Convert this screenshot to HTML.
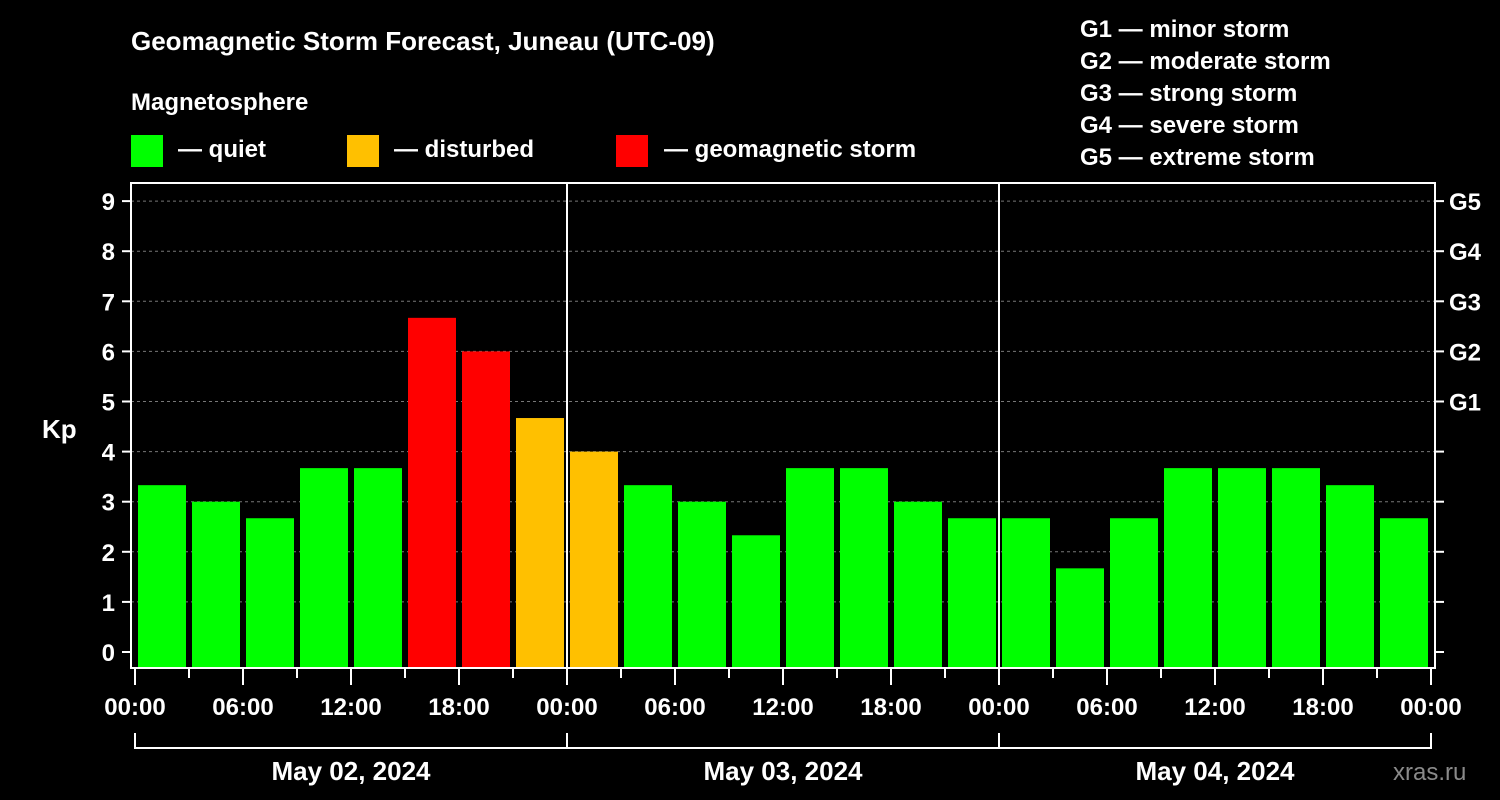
<!DOCTYPE html>
<html><head><meta charset="utf-8"><style>body{margin:0;background:#000}svg{display:block}text{font-family:"Liberation Sans",sans-serif;font-weight:bold;fill:#fff}</style></head><body>
<svg width="1500" height="800" viewBox="0 0 1500 800">
<text x="131" y="50" font-size="26">Geomagnetic Storm Forecast, Juneau (UTC-09)</text>
<text x="131" y="110" font-size="24">Magnetosphere</text>
<rect x="131" y="135" width="32" height="32" fill="#00ff00"/>
<text x="178" y="157" font-size="24">— quiet</text>
<rect x="347" y="135" width="32" height="32" fill="#ffc000"/>
<text x="394" y="157" font-size="24">— disturbed</text>
<rect x="616" y="135" width="32" height="32" fill="#ff0000"/>
<text x="664" y="157" font-size="24">— geomagnetic storm</text>
<g font-size="24">
<text x="1080" y="37">G1 — minor storm</text><text x="1080" y="69">G2 — moderate storm</text><text x="1080" y="101">G3 — strong storm</text><text x="1080" y="133">G4 — severe storm</text><text x="1080" y="165">G5 — extreme storm</text></g>
<text x="42" y="438" font-size="26">Kp</text>
<text x="1393" y="780" font-size="24" fill="#888" style="fill:#8a8a8a;font-weight:normal">xras.ru</text>
<g id="plot"></g>
</svg>
<script>
const kpValues=[3.33,3,2.67,3.67,3.67,6.67,6,4.67,4,3.33,3,2.33,3.67,3.67,3,2.67,2.67,1.67,2.67,3.67,3.67,3.67,3.33,2.67];
const dayLabels=["May 02, 2024","May 03, 2024","May 04, 2024"];
const hourLabels=["00:00","06:00","12:00","18:00"];
const gLabels=["G1","G2","G3","G4","G5"];
const NS="http://www.w3.org/2000/svg";
const g=document.getElementById('plot');
const X0=135,DAY=432,L=131,R=1435,T=183,B=668;
const y=v=>652-v*50.1;
const x=h=>X0+h/24*DAY;
function el(t,a,txt){const e=document.createElementNS(NS,t);for(const k in a)e.setAttribute(k,a[k]);if(txt!=null)e.textContent=txt;g.appendChild(e);return e;}
for(let v=0;v<=9;v++){
 if(v>0){const l=el('line',{x1:L,x2:R,y1:y(v),y2:y(v),stroke:'#777','stroke-dasharray':'3,3','stroke-width':1});
 
 }
 el('line',{x1:L-9,x2:L,y1:y(v),y2:y(v),stroke:'#fff','stroke-width':2});
 el('line',{x1:R,x2:R+9,y1:y(v),y2:y(v),stroke:'#fff','stroke-width':2});
 const t=el('text',{x:L-16,y:y(v)+9,'font-size':24,'text-anchor':'end'},String(v));
 
 
}
gLabels.forEach((s,i)=>{const t=el('text',{x:R+14,y:y(i+5)+9,'font-size':24},s);
 
 });
kpValues.forEach((v,i)=>{
 const c=v>=5?'#ff0000':v>=4?'#ffc000':'#00ff00';
 const r=el('rect',{x:x(i*3)+3,y:y(v),width:48,height:B-y(v),fill:c});
 
 
});
for(let d=1;d<3;d++) el('line',{x1:x(d*24),x2:x(d*24),y1:T,y2:B,stroke:'#fff','stroke-width':2});
const f=el('rect',{x:L,y:T,width:R-L,height:B-T,fill:'none',stroke:'#fff','stroke-width':2});


for(let h=0;h<=72;h+=3){const maj=h%6==0;el('line',{x1:x(h),x2:x(h),y1:B,y2:B+(maj?17:10),stroke:'#fff','stroke-width':2});
 if(maj){const t=el('text',{x:x(h),y:715,'font-size':24,'text-anchor':'middle'},hourLabels[(h%24)/6]);
 
 }}
el('line',{x1:x(0),x2:x(72),y1:748,y2:748,stroke:'#fff','stroke-width':2});
for(let d=0;d<=3;d++) el('line',{x1:x(d*24),x2:x(d*24),y1:733,y2:749,stroke:'#fff','stroke-width':2});
dayLabels.forEach((s,i)=>{const t=el('text',{x:x(i*24+12),y:780,'font-size':26,'text-anchor':'middle'},s);
 
 });
</script>
</body></html>
